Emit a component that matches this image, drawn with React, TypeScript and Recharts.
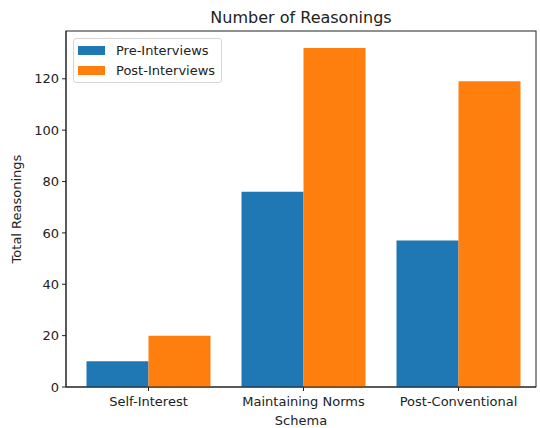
import { BarChart, Bar, XAxis, YAxis, usePlotArea } from "recharts";

const categories = ["Self-Interest", "Maintaining Norms", "Post-Conventional"];
const preInterviews = [10, 76, 57];
const postInterviews = [20, 132, 119];
const yTicks = [0, 20, 40, 60, 80, 100, 120];

const data = categories.map((name, i) => ({
  name,
  pre: preInterviews[i],
  post: postInterviews[i],
}));

const FONT = "DejaVu Sans";
const tickStyle = { fontSize: 13, fill: "#222", fontFamily: FONT };

// axes box like matplotlib's four spines
function Frame() {
  const area = usePlotArea();
  if (!area) return null;
  return (
    <rect
      x={area.x}
      y={area.y}
      width={area.width}
      height={area.height}
      fill="none"
      stroke="#222"
      strokeWidth={1}
      pointerEvents="none"
    />
  );
}

function LegendBox() {
  const items = [
    { label: "Pre-Interviews", color: "#1f77b4" },
    { label: "Post-Interviews", color: "#ff7f0e" },
  ];
  return (
    <div
      style={{
        position: "absolute",
        left: 73,
        top: 38,
        width: 149,
        height: 45,
        boxSizing: "border-box",
        border: "1px solid #d6d6d6",
        borderRadius: 3,
        background: "rgba(255,255,255,0.8)",
        fontFamily: FONT,
        fontSize: 13,
        color: "#222",
        padding: "1px 0 0 4px",
      }}
    >
      {items.map((it) => (
        <div key={it.label} style={{ display: "flex", alignItems: "center", height: 20 }}>
          <span style={{ display: "inline-block", width: 27, height: 9, background: it.color, marginRight: 11 }} />
          <span>{it.label}</span>
        </div>
      ))}
    </div>
  );
}

export default function App() {
  return (
    <div style={{ position: "absolute", left: 0, top: 0, width: 540, height: 428, background: "#fff" }}>
      <div
        style={{
          position: "absolute",
          left: 66,
          width: 470,
          top: 8,
          textAlign: "center",
          fontFamily: FONT,
          fontSize: 16,
          color: "#222",
        }}
      >
        Number of Reasonings
      </div>
      <BarChart
        width={540}
        height={428}
        data={data}
        margin={{ top: 31, right: 4, bottom: 0, left: 0 }}
        barGap={0}
        barCategoryGap="10%"
      >
        <XAxis
          dataKey="name"
          height={41}
          padding={{ left: 5, right: 0 }}
          tick={tickStyle}
          tickSize={4}
          tickMargin={6}
          stroke="#222"
          label={{ value: "Schema", position: "insideBottom", offset: 3, style: { fontSize: 13, fill: "#222", fontFamily: FONT } }}
        />
        <YAxis
          width={66}
          domain={[0, 138.6]}
          ticks={yTicks}
          tick={tickStyle}
          tickSize={4}
          tickMargin={3}
          stroke="#222"
          allowDataOverflow
          label={{
            value: "Total Reasonings",
            angle: -90,
            position: "insideLeft",
            offset: 16,
            style: { textAnchor: "middle", fontSize: 13, fill: "#222", fontFamily: FONT },
          }}
        />
        <Bar dataKey="pre" name="Pre-Interviews" fill="#1f77b4" isAnimationActive={false} />
        <Bar dataKey="post" name="Post-Interviews" fill="#ff7f0e" isAnimationActive={false} />
        <Frame />
      </BarChart>
      <LegendBox />
    </div>
  );
}
